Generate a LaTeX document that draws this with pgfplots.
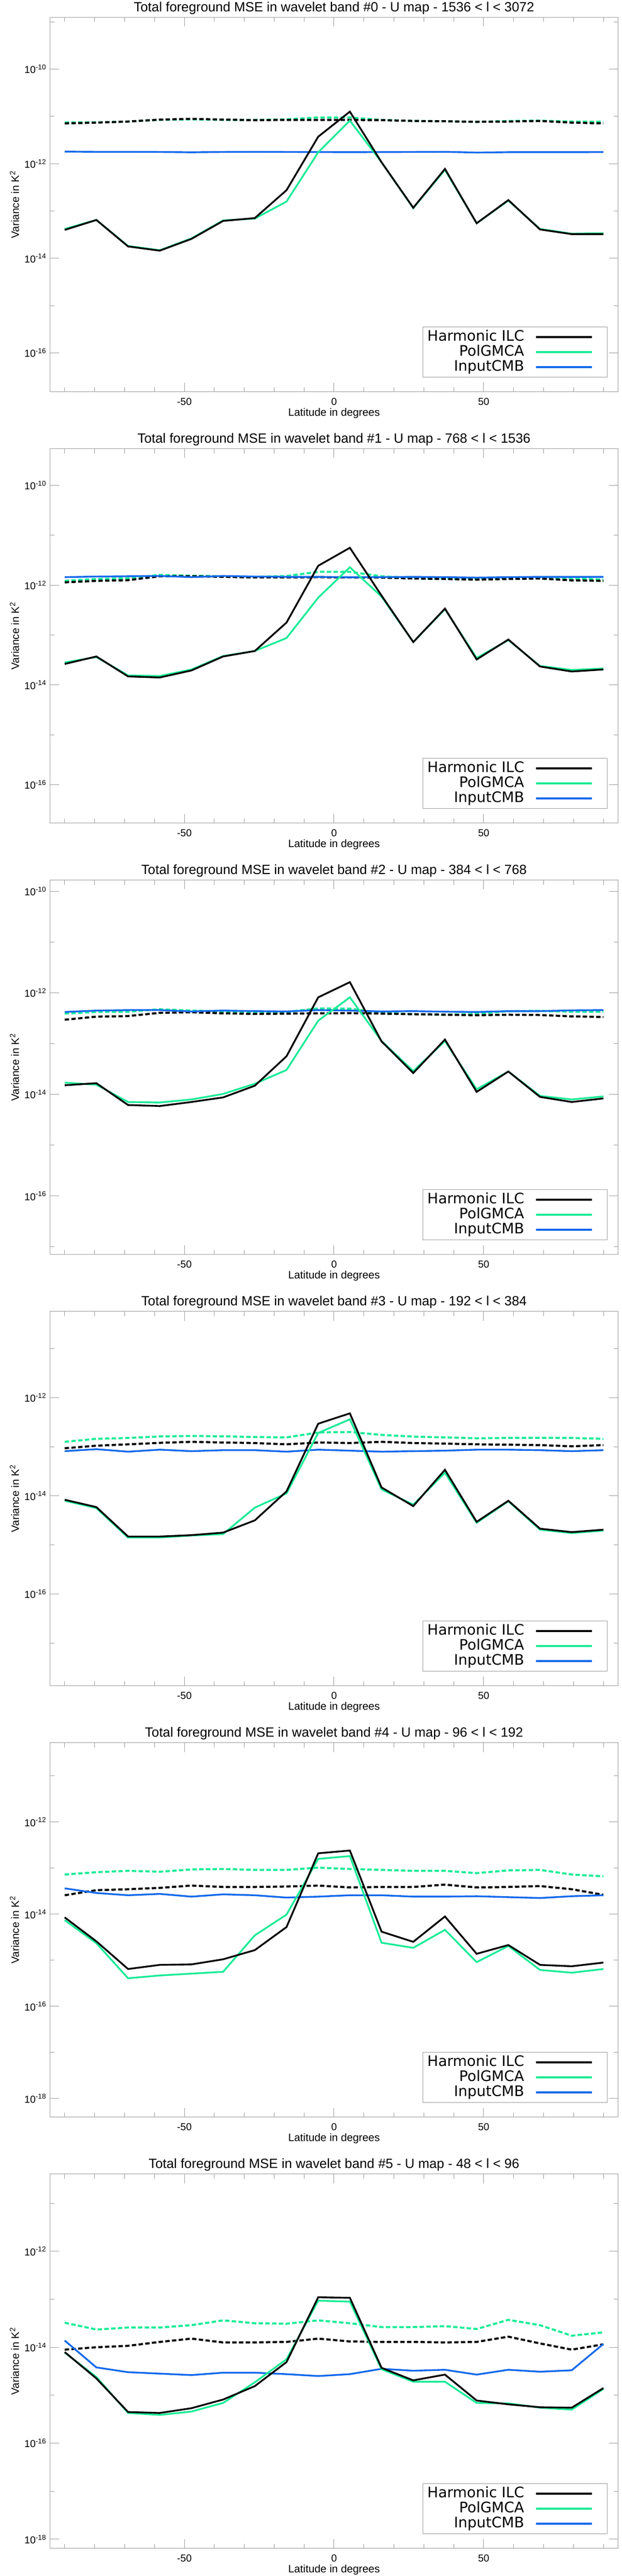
\documentclass[border=0pt]{standalone}
\usepackage{fontspec}
\setmainfont{Liberation Sans}
\newfontfamily\legfont{DejaVu Sans}
\usepackage{pgfplots}
\usepackage{pgfplotstable}
\pgfplotsset{compat=1.18}

\definecolor{pgreen}{RGB}{25,235,150}
\definecolor{cblue}{RGB}{20,105,235}
\definecolor{framegray}{RGB}{155,155,155}

% columns: latitude, harmonic ILC, PolGMCA, input CMB, ILC noise (dashed), PolGMCA noise (dashed)
\pgfplotstableread{
x hb pg cmb hbn pgn
-90 3.98e-14 4.17e-14 1.80e-12 7.10e-12 7.48e-12
-79.41 6.46e-14 6.46e-14 1.78e-12 7.38e-12 7.48e-12
-68.82 1.78e-14 1.82e-14 1.78e-12 7.78e-12 7.78e-12
-58.24 1.45e-14 1.48e-14 1.77e-12 8.55e-12 8.43e-12
-47.65 2.57e-14 2.63e-14 1.74e-12 8.89e-12 8.65e-12
-37.06 6.17e-14 6.31e-14 1.77e-12 8.55e-12 8.43e-12
-26.47 7.08e-14 6.92e-14 1.78e-12 8.32e-12 8.43e-12
-15.88 2.75e-13 1.58e-13 1.77e-12 8.43e-12 8.65e-12
-5.29 3.72e-12 1.74e-12 1.76e-12 8.43e-12 9.50e-12
5.29 1.26e-11 8.13e-12 1.75e-12 8.43e-12 9.50e-12
15.88 1.07e-12 1.07e-12 1.76e-12 8.32e-12 8.43e-12
26.47 1.17e-13 1.15e-13 1.77e-12 8.00e-12 8.00e-12
37.06 7.76e-13 7.41e-13 1.78e-12 7.89e-12 7.89e-12
47.65 5.50e-14 5.50e-14 1.72e-12 7.67e-12 7.67e-12
58.24 1.70e-13 1.66e-13 1.75e-12 7.78e-12 8.00e-12
68.82 4.07e-14 4.17e-14 1.75e-12 8.00e-12 8.11e-12
79.41 3.24e-14 3.31e-14 1.75e-12 7.38e-12 7.78e-12
90 3.24e-14 3.39e-14 1.76e-12 7.10e-12 7.67e-12
}\tabA

\pgfplotstableread{
x hb pg cmb hbn pgn
-90 2.63e-14 2.82e-14 1.45e-12 1.14e-12 1.22e-12
-79.41 3.72e-14 3.63e-14 1.49e-12 1.22e-12 1.33e-12
-68.82 1.48e-14 1.55e-14 1.51e-12 1.26e-12 1.38e-12
-58.24 1.41e-14 1.51e-14 1.53e-12 1.51e-12 1.61e-12
-47.65 1.95e-14 2.04e-14 1.45e-12 1.51e-12 1.55e-12
-37.06 3.72e-14 3.80e-14 1.53e-12 1.47e-12 1.51e-12
-26.47 4.79e-14 4.79e-14 1.49e-12 1.43e-12 1.47e-12
-15.88 1.78e-13 8.71e-14 1.47e-12 1.43e-12 1.53e-12
-5.29 2.45e-12 5.62e-13 1.47e-12 1.45e-12 1.85e-12
5.29 5.62e-12 2.29e-12 1.44e-12 1.43e-12 1.85e-12
15.88 6.17e-13 5.89e-13 1.45e-12 1.42e-12 1.51e-12
26.47 7.24e-14 7.24e-14 1.47e-12 1.36e-12 1.40e-12
37.06 3.39e-13 3.31e-13 1.45e-12 1.33e-12 1.36e-12
47.65 3.24e-14 3.47e-14 1.42e-12 1.29e-12 1.35e-12
58.24 8.13e-14 7.94e-14 1.45e-12 1.33e-12 1.42e-12
68.82 2.34e-14 2.40e-14 1.47e-12 1.36e-12 1.43e-12
79.41 1.86e-14 2.00e-14 1.47e-12 1.25e-12 1.38e-12
90 2.04e-14 2.14e-14 1.47e-12 1.22e-12 1.29e-12
}\tabB

\pgfplotstableread{
x hb pg cmb hbn pgn
-90 1.51e-14 1.70e-14 4.19e-13 2.95e-13 3.89e-13
-79.41 1.66e-14 1.55e-14 4.46e-13 3.39e-13 4.19e-13
-68.82 6.17e-15 7.08e-15 4.56e-13 3.48e-13 4.24e-13
-58.24 5.89e-15 6.92e-15 4.56e-13 4.03e-13 4.74e-13
-47.65 7.08e-15 7.94e-15 4.29e-13 4.13e-13 4.46e-13
-37.06 8.71e-15 1.02e-14 4.46e-13 3.94e-13 4.29e-13
-26.47 1.48e-14 1.62e-14 4.35e-13 3.84e-13 4.19e-13
-15.88 5.62e-14 3.02e-14 4.29e-13 3.89e-13 4.19e-13
-5.29 8.13e-13 2.82e-13 4.56e-13 3.94e-13 4.92e-13
5.29 1.62e-12 8.13e-13 4.46e-13 3.98e-13 4.87e-13
15.88 1.10e-13 1.12e-13 4.29e-13 3.89e-13 4.03e-13
26.47 2.63e-14 2.88e-14 4.35e-13 3.79e-13 3.79e-13
37.06 1.20e-13 1.12e-13 4.24e-13 3.70e-13 3.70e-13
47.65 1.12e-14 1.26e-14 4.19e-13 3.61e-13 3.84e-13
58.24 2.82e-14 2.82e-14 4.35e-13 3.70e-13 4.35e-13
68.82 8.91e-15 9.33e-15 4.35e-13 3.65e-13 4.40e-13
79.41 7.08e-15 7.94e-15 4.51e-13 3.43e-13 4.24e-13
90 8.32e-15 9.12e-15 4.56e-13 3.34e-13 4.24e-13
}\tabC

\pgfplotstableread{
x hb pg cmb hbn pgn
-90 8.32e-15 7.94e-15 8.13e-14 9.33e-14 1.26e-13
-79.41 5.89e-15 5.62e-15 8.91e-14 1.05e-13 1.45e-13
-68.82 1.48e-15 1.41e-15 7.94e-14 1.12e-13 1.51e-13
-58.24 1.48e-15 1.41e-15 8.71e-14 1.20e-13 1.62e-13
-47.65 1.58e-15 1.55e-15 8.13e-14 1.26e-13 1.66e-13
-37.06 1.78e-15 1.66e-15 8.51e-14 1.22e-13 1.63e-13
-26.47 3.16e-15 5.75e-15 8.51e-14 1.19e-13 1.58e-13
-15.88 1.23e-14 1.12e-14 7.94e-14 1.12e-13 1.55e-13
-5.29 2.95e-13 1.91e-13 8.71e-14 1.22e-13 1.95e-13
5.29 4.79e-13 3.63e-13 8.32e-14 1.19e-13 2.00e-13
15.88 1.48e-14 1.35e-14 7.94e-14 1.26e-13 1.74e-13
26.47 6.17e-15 6.61e-15 8.13e-14 1.19e-13 1.61e-13
37.06 3.39e-14 2.95e-14 8.32e-14 1.16e-13 1.55e-13
47.65 2.95e-15 2.82e-15 8.71e-14 1.12e-13 1.49e-13
58.24 7.94e-15 7.76e-15 8.71e-14 1.10e-13 1.51e-13
68.82 2.14e-15 2.04e-15 8.51e-14 1.08e-13 1.52e-13
79.41 1.82e-15 1.74e-15 8.13e-14 1.02e-13 1.51e-13
90 2.04e-15 1.95e-15 8.51e-14 1.08e-13 1.45e-13
}\tabD

\pgfplotstableread{
x hb pg cmb hbn pgn
-90 8.51e-15 7.41e-15 3.63e-14 2.57e-14 7.24e-14
-79.41 2.57e-15 2.34e-15 2.88e-14 3.31e-14 8.13e-14
-68.82 6.46e-16 4.07e-16 2.57e-14 3.47e-14 8.71e-14
-58.24 7.94e-16 4.68e-16 2.75e-14 3.72e-14 8.32e-14
-47.65 8.13e-16 5.13e-16 2.40e-14 4.17e-14 9.33e-14
-37.06 1.05e-15 5.62e-16 2.69e-14 3.89e-14 9.55e-14
-26.47 1.66e-15 3.47e-15 2.57e-14 3.89e-14 9.12e-14
-15.88 5.25e-15 9.77e-15 2.29e-14 3.98e-14 9.12e-14
-5.29 2.09e-13 1.58e-13 2.40e-14 4.17e-14 1.02e-13
5.29 2.40e-13 1.82e-13 2.57e-14 3.80e-14 9.55e-14
15.88 4.17e-15 2.40e-15 2.57e-14 3.89e-14 9.12e-14
26.47 2.51e-15 1.86e-15 2.40e-14 3.89e-14 8.71e-14
37.06 8.91e-15 4.57e-15 2.40e-14 4.37e-14 8.71e-14
47.65 1.38e-15 9.12e-16 2.45e-14 3.80e-14 7.76e-14
58.24 2.14e-15 2.04e-15 2.34e-14 3.89e-14 8.91e-14
68.82 7.94e-16 6.17e-16 2.24e-14 4.07e-14 9.12e-14
79.41 7.41e-16 5.37e-16 2.45e-14 3.47e-14 7.24e-14
90 8.91e-16 6.46e-16 2.57e-14 2.63e-14 6.61e-14
}\tabE

\pgfplotstableread{
x hb pg cmb hbn pgn
-90 7.94e-15 7.76e-15 1.38e-14 8.91e-15 3.24e-14
-79.41 2.24e-15 2.40e-15 3.80e-15 1.00e-14 2.34e-14
-68.82 4.47e-16 4.27e-16 3.02e-15 1.07e-14 2.57e-14
-58.24 4.27e-16 3.89e-16 2.82e-15 1.29e-14 2.57e-14
-47.65 5.37e-16 4.57e-16 2.63e-15 1.51e-14 2.88e-14
-37.06 8.13e-16 6.92e-16 2.95e-15 1.26e-14 3.63e-14
-26.47 1.55e-15 1.86e-15 2.95e-15 1.26e-14 3.16e-14
-15.88 4.90e-15 5.62e-15 2.75e-15 1.29e-14 3.09e-14
-5.29 1.10e-13 9.33e-14 2.51e-15 1.51e-14 3.63e-14
5.29 1.07e-13 8.91e-14 2.75e-15 1.32e-14 3.16e-14
15.88 3.72e-15 3.47e-15 3.55e-15 1.29e-14 2.63e-14
26.47 2.04e-15 1.91e-15 3.24e-15 1.29e-14 2.63e-14
37.06 2.69e-15 1.91e-15 3.39e-15 1.26e-14 2.75e-14
47.65 7.76e-16 6.92e-16 2.69e-15 1.29e-14 2.40e-14
58.24 6.46e-16 6.76e-16 3.39e-15 1.66e-14 3.72e-14
68.82 5.62e-16 5.50e-16 3.09e-15 1.20e-14 2.88e-14
79.41 5.50e-16 5.01e-16 3.31e-15 8.91e-15 1.74e-14
90 1.41e-15 1.35e-15 1.17e-14 1.15e-14 2.04e-14
}\tabF

\pgfplotsset{legend image code/.code={\draw[#1] (0pt,0pt) -- (54pt,0pt); \path (63.5pt,0pt);}}

\newcommand{\panel}[5]{%
\begin{axis}[
    at={(48pt,{-16.75pt-#1*416.5pt})}, anchor=north west,
    scale only axis, width=549pt, height=361.5pt,
    xmin=-95, xmax=95, ymin=#3, ymax=#4,
    ymode=log, log basis y=10,
    xtick={-50,0,50}, xticklabels={-50,0,50},
    minor xtick={-90,-80,...,90},
    ytick={1e-18,1e-16,1e-14,1e-12,1e-10},
    minor ytick={1e-19,1e-17,1e-15,1e-13,1e-11,1e-9},
    major tick length=9pt, minor tick length=4.5pt,
    tick align=inside,
    axis line style={framegray, line width=0.5pt},
    every tick/.style={framegray, line width=0.5pt},
    yticklabel={10\textsuperscript{\pgfmathparse{int(round(\tick))}\pgfmathresult}},
    tick label style={font=\fontsize{9.75}{11}\selectfont},
    xticklabel style={anchor=base, yshift=-13.1pt},
    yticklabel style={anchor=east, inner sep=0pt, xshift=-3pt},
    title style={at={(0.5,1)}, anchor=base, yshift=-0.7pt,
      font=\fontsize{12.9}{15}\selectfont},
    xlabel style={at={(axis description cs:0.5,0)}, anchor=base, yshift=-23.5pt,
      font=\fontsize{10.4}{12}\selectfont},
    ylabel style={at={([xshift=-34pt]axis description cs:0,0.5)}, anchor=center,
      font=\fontsize{10.4}{12}\selectfont},
    xlabel={Latitude in degrees},
    ylabel={Variance in K\textsuperscript{2}},
    title={Total foreground MSE in wavelet band \##1 - U map - #2},
    no markers,
    legend cell align=right, legend plot pos=right,
    legend style={at={(1,0)}, anchor=south east, xshift=-10.5pt, yshift=13.8pt,
      draw=framegray, line width=0.5pt,
      font=\legfont\fontsize{14}{16}\selectfont,
      inner xsep=4.5pt, inner ysep=3pt, row sep=1pt, column sep=10.5pt,
      nodes={inner sep=0pt, text height=10.5pt, text depth=3pt}},
  ]
  \addlegendimage{black, line width=1.7pt}\addlegendentry{Harmonic ILC}
  \addlegendimage{pgreen, line width=1.7pt}\addlegendentry{PolGMCA}
  \addlegendimage{cblue, line width=1.7pt}\addlegendentry{InputCMB}
  \addplot[pgreen, line width=2pt, dash pattern=on 4.25pt off 2.25pt, forget plot] table[x=x, y=pgn] {#5};
  \addplot[black, line width=2pt, dash pattern=on 4.25pt off 2.25pt, forget plot] table[x=x, y=hbn] {#5};
  \addplot[cblue, line width=1.7pt, forget plot] table[x=x, y=cmb] {#5};
  \addplot[pgreen, line width=1.7pt, forget plot] table[x=x, y=pg] {#5};
  \addplot[black, line width=1.7pt, forget plot] table[x=x, y=hb] {#5};
\end{axis}}

\begin{document}
\begin{tikzpicture}
\path[use as bounding box] (0pt,0pt) rectangle (600pt,-2487.5pt);
\panel{0}{1536 < l < 3072}{1.51e-17}{1.24e-9}{\tabA}
\panel{1}{768 < l < 1536}{1.70e-17}{5.46e-10}{\tabB}
\panel{2}{384 < l < 768}{7.08e-18}{1.66e-10}{\tabC}
\panel{3}{192 < l < 384}{1.35e-18}{5.75e-11}{\tabD}
\panel{4}{96 < l < 192}{3.98e-19}{5.25e-11}{\tabE}
\panel{5}{48 < l < 96}{6.46e-19}{4.07e-11}{\tabF}
\end{tikzpicture}
\end{document}
